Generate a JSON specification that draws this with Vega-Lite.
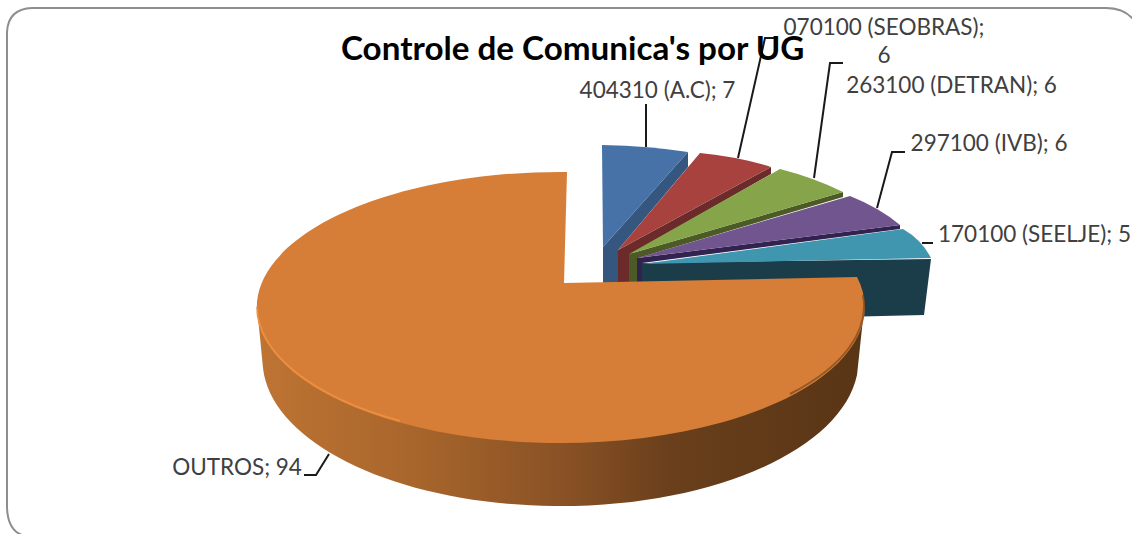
{"$schema":"https://vega.github.io/schema/vega-lite/v6.json","width":1132,"height":534,"padding":0,"autosize":{"type":"none"},"background":"white","view":{"stroke":null},
"title":{"text":"Controle de Comunica's por UG","anchor":"start","frame":"group","offset":0,"dx":341,"dy":93,"baseline":"alphabetic","font":"Lato","fontSize":33.2,"fontWeight":"bold","color":"#000000"},
"datasets":{"slices":[
{"ug":"404310 (A.C)","value":7,"label":"404310 (A.C); 7"},
{"ug":"070100 (SEOBRAS)","value":6,"label":"070100 (SEOBRAS);\n6"},
{"ug":"263100 (DETRAN)","value":6,"label":"263100 (DETRAN); 6"},
{"ug":"297100 (IVB)","value":6,"label":"297100 (IVB); 6"},
{"ug":"170100 (SEELJE)","value":5,"label":"170100 (SEELJE); 5"},
{"ug":"OUTROS","value":94,"label":"OUTROS; 94"}],
"frame":[{"part":"border"}]},
"resolve":{"scale":{"shape":"independent","color":"independent"}},
"layer":[
{"data":{"name":"frame"},"mark":{"type":"point","size":4,"opacity":1,"filled":false,"stroke":"#8E8E8E","strokeWidth":2,"shape":"M7,32 Q8,9 32,8 L1106,8 Q1124,8 1134,20 M7,32 L7,508 Q8,530 22,535"},"encoding":{"x":{"value":0},"y":{"value":0}}},
{"data":{"name":"slices"},"transform":[{"filter":"datum.ug !== 'OUTROS'"}],"mark":{"type":"point","size":4,"opacity":1,"filled":true},"encoding":{"x":{"value":0},"y":{"value":0},
"shape":{"field":"ug","type":"nominal","legend":null,"scale":{"domain":["404310 (A.C)","070100 (SEOBRAS)","263100 (DETRAN)","297100 (IVB)","170100 (SEELJE)"],"range":["M688,152 L688,167 L618,250 L618,290 L603,290 L603,247 Z","M771,167 L771,174 L629,255 L629,290 L618,290 L618,250 Z","M843,192 L843,197 L638,258 L638,290 L629,290 L629,254 Z","M900,225 L900,229 L642,263 L642,290 L637,290 L637,258 Z","M642,263 L931,259 L924,315 L840,317 L840,290 L642,290 Z"]}},
"color":{"field":"ug","type":"nominal","legend":null,"scale":{"domain":["404310 (A.C)","070100 (SEOBRAS)","263100 (DETRAN)","297100 (IVB)","170100 (SEELJE)"],"range":["#34567F","#6B2B2B","#4C5A26","#32224F","#1B3D4A"]}}}},
{"data":{"name":"slices"},"transform":[{"filter":"datum.ug !== 'OUTROS'"}],"mark":{"type":"point","size":4,"opacity":1,"filled":true},"encoding":{"x":{"value":0},"y":{"value":0},
"shape":{"field":"ug","type":"nominal","legend":null,"scale":{"domain":["404310 (A.C)","070100 (SEOBRAS)","263100 (DETRAN)","297100 (IVB)","170100 (SEELJE)"],"range":["M602,145 Q650,146 688,152 L603,247 Z","M700,153 Q740,157 771,167 L618,250 Z","M780,169 Q815,178 843,192 L629,254 Z","M850,196 Q880,208 900,225 L637,258 Z","M903,229 Q922,240 931,258 L642,264 Z"]}},
"color":{"field":"ug","type":"nominal","legend":null,"scale":{"domain":["404310 (A.C)","070100 (SEOBRAS)","263100 (DETRAN)","297100 (IVB)","170100 (SEELJE)"],"range":["#4672A8","#A8423F","#86A44A","#71558F","#4096AE"]}}}},
{"data":{"name":"slices"},"transform":[{"filter":"datum.ug === 'OUTROS'"}],"mark":{"type":"point","size":4,"opacity":1,"filled":true,"shape":"M257,307 L263,368 A298,146 0 0 0 857,375 L865,300 Z","fill":{"gradient":"linear","x1":0,"y1":0,"x2":1,"y2":0,"stops":[{"offset":0,"color":"#BE7433"},{"offset":0.25,"color":"#A9662C"},{"offset":0.5,"color":"#8A5225"},{"offset":0.68,"color":"#6A3F1C"},{"offset":1,"color":"#583515"}]}},"encoding":{"x":{"value":0},"y":{"value":0}}},
{"data":{"name":"slices"},"transform":[{"filter":"datum.ug === 'OUTROS'"}],"mark":{"type":"point","size":4,"opacity":1,"filled":true,"fill":"#D67E38","shape":"M564,283 L567,172 A304,135.5 0 1 0 857,277 Z"},"encoding":{"x":{"value":0},"y":{"value":0}}},
{"data":{"name":"slices"},"transform":[{"filter":"datum.ug === 'OUTROS'"}],"mark":{"type":"point","size":4,"opacity":0.8,"filled":false,"stroke":"#F2933F","strokeWidth":2,"shape":"M257,307 A304,135.5 0 0 0 400,421"},"encoding":{"x":{"value":0},"y":{"value":0}}},
{"data":{"name":"slices"},"transform":[{"filter":"datum.ug === 'OUTROS'"}],"mark":{"type":"point","size":4,"opacity":0.6,"filled":false,"stroke":"#6A3F1C","strokeWidth":2,"shape":"M863,295 A302,134 0 0 1 790,394"},"encoding":{"x":{"value":0},"y":{"value":0}}},
{"data":{"name":"slices"},"mark":{"type":"point","size":4,"opacity":1,"filled":false,"stroke":"#1A1A1A","strokeWidth":2},"encoding":{"x":{"value":0},"y":{"value":0},
"shape":{"field":"ug","type":"nominal","legend":null,"scale":{"domain":["404310 (A.C)","070100 (SEOBRAS)","263100 (DETRAN)","297100 (IVB)","170100 (SEELJE)","OUTROS"],"range":["M646,104 L646,147","M738,158 L765,38 L775,38","M814,178 L830,63 L843,63","M877,208 L892,152 L905,152","M922,243 L933,243","M304,475 L316,475 L329,454"]}}}},
{"data":{"name":"slices"},"transform":[{"filter":"datum.ug === '404310 (A.C)'"}],"mark":{"type":"text","x":657.5,"y":98,"align":"center","baseline":"alphabetic","font":"Lato","fontSize":22.5,"color":"#404040"},"encoding":{"text":{"field":"label"}}},
{"data":{"name":"slices"},"transform":[{"filter":"datum.ug === '070100 (SEOBRAS)'"}],"mark":{"type":"text","x":884,"y":35,"align":"center","baseline":"alphabetic","font":"Lato","fontSize":22.5,"color":"#404040","lineBreak":"\n","lineHeight":28},"encoding":{"text":{"field":"label"}}},
{"data":{"name":"slices"},"transform":[{"filter":"datum.ug === '263100 (DETRAN)'"}],"mark":{"type":"text","x":951.5,"y":93,"align":"center","baseline":"alphabetic","font":"Lato","fontSize":22.5,"color":"#404040"},"encoding":{"text":{"field":"label"}}},
{"data":{"name":"slices"},"transform":[{"filter":"datum.ug === '297100 (IVB)'"}],"mark":{"type":"text","x":989,"y":151,"align":"center","baseline":"alphabetic","font":"Lato","fontSize":22.5,"color":"#404040"},"encoding":{"text":{"field":"label"}}},
{"data":{"name":"slices"},"transform":[{"filter":"datum.ug === '170100 (SEELJE)'"}],"mark":{"type":"text","x":1034.5,"y":242,"align":"center","baseline":"alphabetic","font":"Lato","fontSize":22.5,"color":"#404040"},"encoding":{"text":{"field":"label"}}},
{"data":{"name":"slices"},"transform":[{"filter":"datum.ug === 'OUTROS'"}],"mark":{"type":"text","x":237,"y":475,"align":"center","baseline":"alphabetic","font":"Lato","fontSize":22.5,"color":"#404040"},"encoding":{"text":{"field":"label"}}}
]}
